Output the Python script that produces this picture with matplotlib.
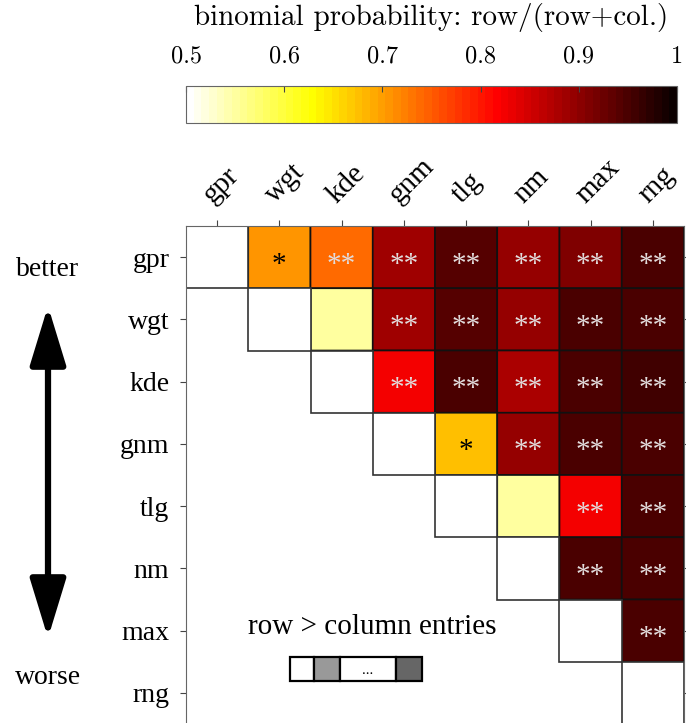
import numpy as np
import matplotlib
matplotlib.use('Agg')
import matplotlib.pyplot as plt
import matplotlib.transforms as mtransforms
from matplotlib.patches import Rectangle, FancyArrowPatch

plt.rcParams['font.family'] = ['Liberation Serif', 'DejaVu Serif']

methods = ['gpr', 'wgt', 'kde', 'gnm', 'tlg', 'nm', 'max', 'rng']
# upper triangle, row i against columns i+1..n-1
probs = [
    [0.71, 0.737, 0.888, 0.944, 0.894, 0.91, 0.947],
    [0.55, 0.888, 0.9375, 0.892, 0.948, 0.953],
    [0.825, 0.95, 0.875, 0.95, 0.955],
    [0.672, 0.898, 0.95, 0.95],
    [0.55, 0.825, 0.95],
    [0.947, 0.948],
    [0.947],
]
stars = [
    ['*', '**', '**', '**', '**', '**', '**'],
    ['', '**', '**', '**', '**', '**'],
    ['**', '**', '**', '**', '**'],
    ['*', '**', '**', '**'],
    ['', '**', '**'],
    ['**', '**'],
    ['**'],
]
cbar_ticks = [0.5, 0.6, 0.7, 0.8, 0.9, 1.0]
cbar_labels = ['0.5', '0.6', '0.7', '0.8', '0.9', '1']

n = len(methods)
P = np.full((n, n), np.nan)
for i, row in enumerate(probs):
    P[i, i + 1:] = row

fig = plt.figure(figsize=(6.86, 7.23), dpi=100)
ax = fig.add_axes([186 / 686, -1 / 723, 498 / 686, 498 / 723])
cmap = plt.get_cmap('hot_r', 64)
mesh = ax.pcolor(np.ma.masked_invalid(P), cmap=cmap, vmin=0.5, vmax=1,
                 edgecolors='#111111', linewidth=1.2)
for i in range(n):
    ax.add_patch(Rectangle((i, i), 1, 1, facecolor='white', edgecolor='#333333', lw=1.2))
    for j in range(i + 1, n):
        s = stars[i][j - i - 1]
        if s:
            col = 'black' if s == '*' else '#e2dcdc'
            ax.text(j + 0.5, i + 0.62, s, ha='center', va='center', fontsize=21, color=col)

ax.set_xlim(0, n)
ax.set_ylim(n, 0)
ax.set_xticks(np.arange(n) + 0.5)
ax.set_yticks(np.arange(n) + 0.5)
ax.xaxis.tick_top()
ax.set_xticklabels(methods, rotation=45, ha='left', va='center', rotation_mode='anchor', fontsize=21)
ax.set_yticklabels(methods, fontsize=20)
ax.tick_params(axis='x', direction='out', length=4, color='#444444', pad=4)
ax.tick_params(axis='y', direction='out', length=4, color='#444444', pad=8,
               right=True)
shift = mtransforms.ScaledTranslation(-10 / 100, 16 / 100, fig.dpi_scale_trans)
for lab in ax.get_xticklabels():
    lab.set_transform(lab.get_transform() + shift)
for sp in ax.spines.values():
    sp.set_color('#666666')
    sp.set_linewidth(0.8)

# colorbar
cax = fig.add_axes([186 / 686, (723 - 123) / 723, 491 / 686, 37 / 723])
cb = fig.colorbar(mesh, cax=cax, orientation='horizontal', ticklocation='top')
cb.set_ticks(cbar_ticks)
cb.set_ticklabels(cbar_labels)
cax.tick_params(direction='in', length=4, color='#444444', pad=13)
for lab in cax.get_xticklabels():
    lab.set_family('cmr10')
    lab.set_fontsize(17.5)
cb.outline.set_edgecolor('#666666')
cb.outline.set_linewidth(0.8)
cb.set_label('binomial probability: row/(row+col.)', family='cmr10', fontsize=21, labelpad=15)

# better / worse arrow
arr = FancyArrowPatch((48 / 686, (723 - 638) / 723), (48 / 686, (723 - 306) / 723),
                      transform=fig.transFigure, arrowstyle='<|-|>,head_length=36,head_width=11',
                      mutation_scale=1, lw=4.5, color='black', shrinkA=0, shrinkB=0)
fig.patches.append(arr)
fig.text(48 / 686, (723 - 270) / 723, 'better', ha='center', va='center', fontsize=20)
fig.text(48 / 686, (723 - 677) / 723, 'worse', ha='center', va='center', fontsize=20)

# legend strip
fig.text(372 / 686, (723 - 627) / 723, 'row > column entries', ha='center', va='center', fontsize=21)
segs = [(290, 314, 'white'), (314, 340, '#999999'), (340, 396, 'white'), (396, 422, '#666666')]
for x0, x1, c in segs:
    fig.patches.append(Rectangle((x0 / 686, (723 - 681) / 723), (x1 - x0) / 686, 24 / 723,
                                 transform=fig.transFigure, facecolor=c, edgecolor='black', lw=1.6))
fig.text(368 / 686, (723 - 671) / 723, '...', ha='center', va='center', fontsize=11)

fig.savefig('out.png', dpi=100)
